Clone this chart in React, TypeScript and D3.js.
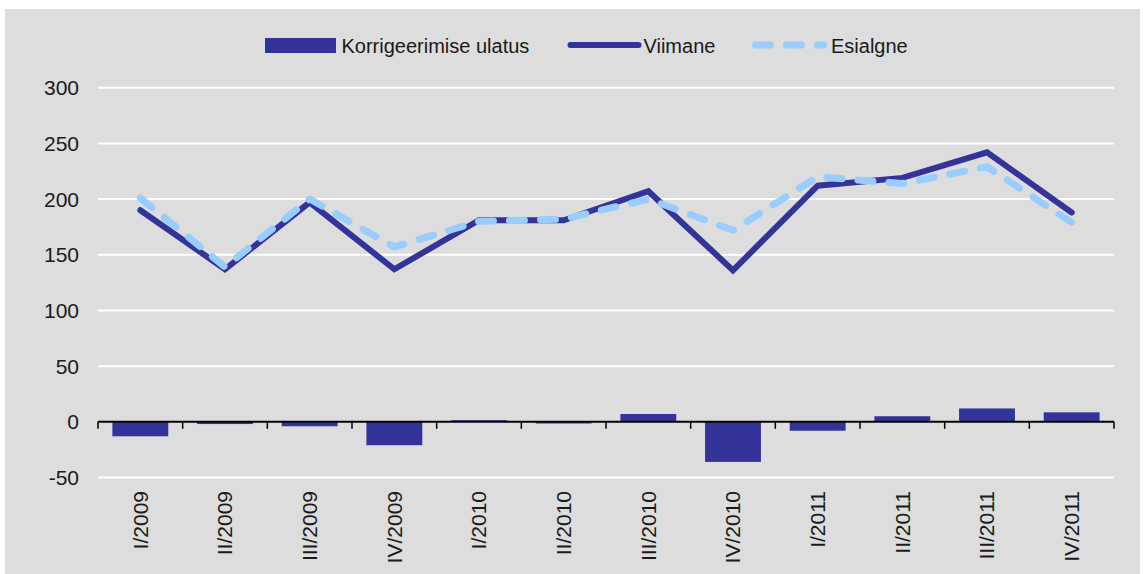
import React, { useEffect, useRef } from "react";
import * as d3 from "d3";

const categories = [
  "I/2009", "II/2009", "III/2009", "IV/2009",
  "I/2010", "II/2010", "III/2010", "IV/2010",
  "I/2011", "II/2011", "III/2011", "IV/2011",
];
const korrigeerimine = [-13, -2, -4, -21, 1.5, -1.5, 7, -36, -8, 5, 12, 8.5];
const viimane = [190, 137, 197, 137, 181, 181, 207, 136, 212, 219, 242, 188];
const esialgne = [201, 139, 200, 157, 180, 182, 200, 172, 220, 214, 229, 179];
const yTicks = [-50, 0, 50, 100, 150, 200, 250, 300];

const legendItems = [
  { label: "Korrigeerimise ulatus", kind: "bar" },
  { label: "Viimane", kind: "line" },
  { label: "Esialgne", kind: "dash" },
];

const W = 1143;
const H = 574;
const DARK = "#333399";
const LIGHT = "#99ccff";
const FONT = "'Liberation Sans', Arial, sans-serif";

const App = () => {
  const ref = useRef<SVGSVGElement>(null);

  useEffect(() => {
    drawChart();
  }, []);

  function drawChart() {
    const svg = d3.select(ref.current);
    svg.selectAll("*").remove();

    const left = 98;
    const right = 1114;

    // background
    svg
      .append("rect")
      .attr("x", 5)
      .attr("y", 9)
      .attr("width", 1135)
      .attr("height", H - 9)
      .attr("fill", "#dddddd");

    const x = d3
      .scaleBand()
      .domain(categories)
      .range([left, right])
      .paddingInner(0.34)
      .paddingOuter(0.17);
    const y = d3.scaleLinear().domain([-50, 300]).range([477.5, 87.7]);
    const cx = (c: string) => (x(c) as number) + x.bandwidth() / 2;

    // grid lines
    svg
      .append("g")
      .selectAll("line")
      .data(yTicks.filter((t) => t !== 0))
      .join("line")
      .attr("x1", left)
      .attr("x2", right)
      .attr("y1", (d) => y(d))
      .attr("y2", (d) => y(d))
      .attr("stroke", "#ffffff")
      .attr("stroke-width", 2);

    // y labels
    svg
      .append("g")
      .selectAll("text")
      .data(yTicks)
      .join("text")
      .attr("x", 79)
      .attr("y", (d) => y(d))
      .attr("dy", "0.36em")
      .attr("text-anchor", "end")
      .attr("font-family", FONT)
      .attr("font-size", 21)
      .attr("fill", "#1a1a1a")
      .text((d) => d);

    // bars
    svg
      .append("g")
      .selectAll("rect")
      .data(korrigeerimine)
      .join("rect")
      .attr("x", (d, i) => x(categories[i]) as number)
      .attr("width", x.bandwidth())
      .attr("y", (d) => y(Math.max(0, d)))
      .attr("height", (d) => Math.abs(y(d) - y(0)))
      .attr("fill", DARK);

    // zero axis with ticks at category boundaries
    const axis = svg.append("g");
    axis
      .append("line")
      .attr("x1", left)
      .attr("x2", right)
      .attr("y1", y(0))
      .attr("y2", y(0))
      .attr("stroke", "#000")
      .attr("stroke-width", 2);
    const step = x.step();
    axis
      .selectAll("line.tick")
      .data(d3.range(categories.length + 1))
      .join("line")
      .attr("class", "tick")
      .attr("x1", (i) => left + i * step)
      .attr("x2", (i) => left + i * step)
      .attr("y1", y(0))
      .attr("y2", y(0) + 7)
      .attr("stroke", "#000")
      .attr("stroke-width", 1.5);

    // x labels
    svg
      .append("g")
      .selectAll("text")
      .data(categories)
      .join("text")
      .attr("transform", (d) => `translate(${cx(d)},491) rotate(-90)`)
      .attr("dy", "0.35em")
      .attr("text-anchor", "end")
      .attr("font-family", FONT)
      .attr("font-size", 21)
      .attr("fill", "#1a1a1a")
      .text((d) => d);

    const line = d3
      .line<number>()
      .x((d, i) => cx(categories[i]))
      .y((d) => y(d));

    svg
      .append("path")
      .datum(viimane)
      .attr("fill", "none")
      .attr("stroke", DARK)
      .attr("stroke-width", 6)
      .attr("stroke-linecap", "round")
      .attr("d", line);

    svg
      .append("path")
      .datum(esialgne)
      .attr("fill", "none")
      .attr("stroke", LIGHT)
      .attr("stroke-width", 7)
      .attr("stroke-linecap", "round")
      .attr("stroke-linejoin", "round")
      .attr("stroke-dasharray", "15,16")
      .attr("d", line);

    // legend
    const legendX = [265, 567, 752];
    const legend = svg.append("g");
    legendItems.forEach((item, i) => {
      const lx = legendX[i];
      if (item.kind === "bar") {
        legend
          .append("rect")
          .attr("x", lx)
          .attr("y", 38)
          .attr("width", 71)
          .attr("height", 15)
          .attr("fill", DARK);
      } else {
        legend
          .append("line")
          .attr("x1", lx + 3.5)
          .attr("x2", lx + 71.5)
          .attr("y1", 45)
          .attr("y2", 45)
          .attr("stroke", item.kind === "line" ? DARK : LIGHT)
          .attr("stroke-width", item.kind === "line" ? 6 : 7)
          .attr("stroke-linecap", "round")
          .attr("stroke-dasharray", item.kind === "dash" ? "15,16" : null);
      }
      legend
        .append("text")
        .attr("x", lx + (item.kind === "dash" ? 79 : 76.5))
        .attr("y", 52.5)
        .attr("font-family", FONT)
        .attr("font-size", 20)
        .attr("fill", "#1a1a1a")
        .text(item.label);
    });
  }

  return (
    <svg
      ref={ref}
      width={W}
      height={H}
      style={{ position: "absolute", left: 0, top: 0, background: "#ffffff" }}
    />
  );
};

export default App;
